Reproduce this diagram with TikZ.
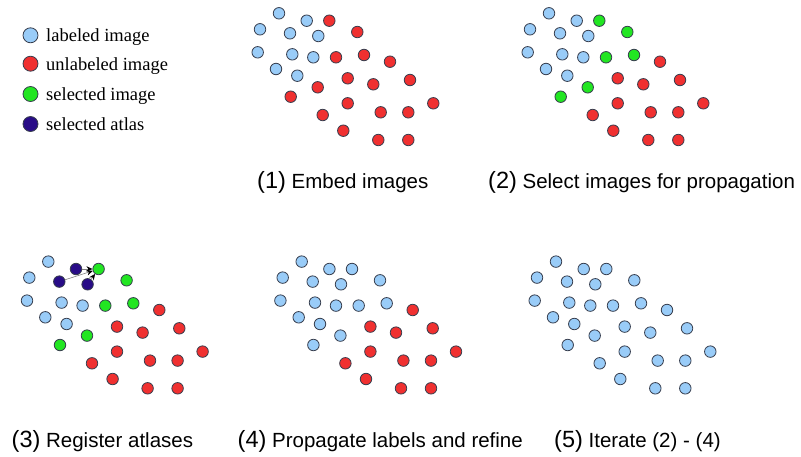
\documentclass[tikz,border=0pt]{standalone}
\usepackage{fontspec}
\setmainfont{Liberation Serif}
\newfontfamily\capfont{Liberation Sans}
\usetikzlibrary{arrows.meta}

\definecolor{labblue}{RGB}{153,204,248}
\definecolor{unlred}{RGB}{240,48,48}
\definecolor{selgreen}{RGB}{34,230,34}
\definecolor{atlblue}{RGB}{40,12,135}
\definecolor{dotline}{RGB}{55,62,78}

\tikzset{
    dot/.style={circle,draw=dotline,line width=0.8pt,minimum size=11.5pt,inner sep=0pt},
    lab/.style={fill=labblue},
    unl/.style={fill=unlred},
    sel/.style={fill=selgreen},
    atl/.style={fill=atlblue},
    legdot/.style={dot,minimum size=15pt},
    legtext/.style={anchor=base west,inner sep=0pt,font=\fontsize{18.5}{22}\selectfont},
    caption/.style={anchor=base west,inner sep=0pt,font=\capfont\fontsize{20.5}{24}\selectfont},
    regarrow/.style={-{Stealth[black,length=6pt,width=5.5pt]},draw=gray,line width=0.6pt}
}
\newcommand{\stepno}[1]{{\fontsize{23.5}{26}\selectfont(#1)}}

\begin{document}
\begin{tikzpicture}[x=1pt,y=-1pt]
    \useasboundingbox (0,0) rectangle (801,456);
    % legend
    \node[legdot,lab](k1)at(30.5, 35.3){};
    \node[legdot,unl](k2)at(30.5, 63.7){};
    \node[legdot,sel](k3)at(30.5, 94){};
    \node[legdot,atl](k4)at(30.5, 124){};
    \node[legtext](t1)at(46, 41.7){labeled image};
    \node[legtext](t2)at(46, 70.5){unlabeled image};
    \node[legtext](t3)at(46, 100.8){selected image};
    \node[legtext](t4)at(46, 130.5){selected atlas};
    % the five panels: tb labeled, ta atlas, ts selected, tr unlabeled
    \foreach \n/\sx/\sy/\cb/\ca/\cs/\cr in {1/0/0/lab/lab/unl/unl, 2/270/0/lab/lab/sel/unl,
            3/-230.7/248.3/lab/atl/sel/unl, 4/22.7/248.3/lab/lab/lab/unl, 5/277/248.3/lab/lab/lab/lab}{
        \begin{scope}[shift={(\sx,\sy)},tb/.style=\cb,ta/.style=\ca,ts/.style=\cs,tr/.style=\cr]
            \foreach \x/\y/\t [count=\i] in {279/13.3/tb, 306.7/20.7/ta, 260/29.3/tb, 290/33.3/ta,
                    318.3/36/ta, 257.7/52.3/tb, 292.3/54.3/tb, 313.3/57.3/tb, 276/69/tb, 297.3/75.7/tb,
                    329.3/20.7/ts, 357.3/32/ts, 336/57.3/ts, 364/55/ts, 390/61.7/tr, 347.7/78.3/tr,
                    373.3/84.3/tr, 410/80/tr, 317.7/87.3/ts, 290.7/96.7/ts, 347.7/103.3/tr, 433.3/103.3/tr,
                    322.7/115/tr, 380.7/112.3/tr, 408.3/112.3/tr, 343.3/130.7/tr, 378.3/140/tr, 408.3/140/tr}
                \node[dot,\t](p\n-\i)at(\x, \y){};
        \end{scope}
    }
    % registration of the atlases
    \draw[regarrow](p3-2) -- (p3-11);
    \draw[regarrow](p3-4) -- (p3-11);
    \draw[regarrow](p3-5) -- (p3-11);
    % captions
    \node[caption](c1)at(257, 188){\stepno{1} Embed images};
    \node[caption](c2)at(488, 188){\stepno{2} Select images for propagation};
    \node[caption](c3)at(11.5, 447.5){\stepno{3} Register atlases};
    \node[caption](c4)at(237.5, 447.5){\stepno{4} Propagate labels and refine};
    \node[caption](c5)at(554, 447.5){\stepno{5} Iterate (2) - (4)};
\end{tikzpicture}
\end{document}
